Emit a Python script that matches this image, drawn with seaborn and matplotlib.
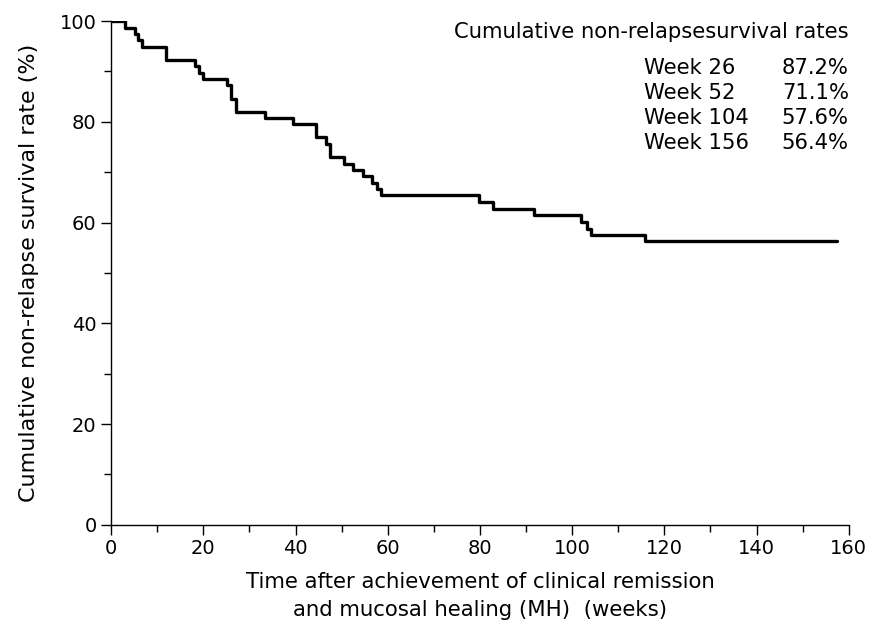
import matplotlib
matplotlib.use("Agg")
import matplotlib.pyplot as plt
import seaborn as sns
import pandas as pd
from matplotlib.ticker import MultipleLocator

# Kaplan-Meier step curve
weeks = [0, 3.1, 5.1, 5.8, 6.7, 12.0, 18.1, 19.0, 19.9, 25.2, 26.1, 27.1,
         33.3, 39.4, 44.5, 46.6, 47.4, 50.5, 52.4, 54.6, 56.6, 57.6, 58.6,
         79.7, 82.8, 91.8, 101.9, 103.3, 104.0, 115.9, 157.5]
survival = [100, 98.7, 97.4, 96.2, 94.9, 92.3, 91.0, 89.7, 88.5, 87.2, 84.6,
            82.0, 80.8, 79.5, 76.9, 75.6, 73.0, 71.7, 70.5, 69.2, 67.9, 66.6,
            65.4, 64.0, 62.7, 61.4, 60.1, 58.8, 57.6, 56.4, 56.4]

rate_labels = ["Week 26", "Week 52", "Week 104", "Week 156"]
rate_values = ["87.2%", "71.1%", "57.6%", "56.4%"]

df = pd.DataFrame({"week": weeks, "survival": survival})

sns.set_style("ticks")
plt.rcParams["font.family"] = ["DejaVu Sans"]
plt.rcParams["text.color"] = "black"
plt.rcParams["axes.labelcolor"] = "black"

fig = plt.figure(figsize=(8.75, 6.27), dpi=100)
ax = fig.add_axes([0.127, 0.163, 0.843, 0.8035])

sns.lineplot(data=df, x="week", y="survival", drawstyle="steps-post",
             color="black", linewidth=2.4, ax=ax)

ax.set_xlim(0, 160)
ax.set_ylim(0, 100)
ax.xaxis.set_major_locator(MultipleLocator(20))
ax.xaxis.set_minor_locator(MultipleLocator(10))
ax.yaxis.set_major_locator(MultipleLocator(20))
ax.yaxis.set_minor_locator(MultipleLocator(10))
ax.tick_params(which="both", direction="out", width=1.0, colors="black",
               labelsize=14)
ax.tick_params(which="major", length=7)
ax.tick_params(which="minor", length=5)

for side in ["top", "right"]:
    ax.spines[side].set_visible(False)
for side in ["left", "bottom"]:
    ax.spines[side].set_linewidth(1.0)
    ax.spines[side].set_color("black")

ax.set_xlabel("Time after achievement of clinical remission\n"
              "and mucosal healing (MH)  (weeks)", fontsize=15.3,
              labelpad=10, linespacing=1.5)
ax.set_ylabel("Cumulative non-relapse survival rate (%)", fontsize=16,
              labelpad=15)

ax.text(1.0, 0.978, "Cumulative non-relapsesurvival rates",
        transform=ax.transAxes, ha="right", va="center", fontsize=15.2)
for i, (lab, val) in enumerate(zip(rate_labels, rate_values)):
    y = 0.907 - i * 0.0495
    ax.text(0.722, y, lab, transform=ax.transAxes, ha="left", va="center",
            fontsize=15.2)
    ax.text(1.0, y, val, transform=ax.transAxes, ha="right", va="center",
            fontsize=15.2)

fig.savefig("out.png", dpi=100)
